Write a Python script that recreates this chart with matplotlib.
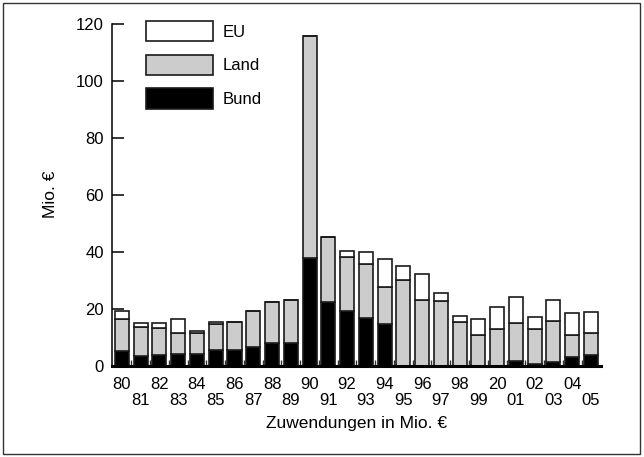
import numpy as np
import matplotlib.pyplot as plt
from matplotlib.patches import Rectangle

plt.rcParams['font.family'] = ['Liberation Sans', 'DejaVu Sans']

# Jahre (2000 steht im Original als "20")
years = ['80', '81', '82', '83', '84', '85', '86', '87', '88', '89',
         '90', '91', '92', '93', '94', '95', '96', '97', '98', '99',
         '20', '01', '02', '03', '04', '05']

# Zuwendungen in Mio. Euro
bund = [5.1, 3.5, 3.6, 3.9, 4.2, 5.6, 5.6, 6.6, 8.1, 8.1,
        37.6, 22.3, 19.2, 16.7, 14.5, 0, 0, 0, 0, 0,
        0, 1.7, 0.5, 1.2, 3.1, 3.6]
land = [11.1, 9.9, 9.5, 7.4, 7.2, 8.9, 9.8, 12.4, 14.1, 15.0,
        78.1, 23.0, 18.9, 19.0, 13.0, 30.2, 22.9, 22.5, 15.4, 10.8,
        12.8, 13.4, 12.5, 14.5, 7.7, 7.9]
eu = [2.8, 1.5, 1.8, 5.1, 0.9, 0.9, 0, 0, 0, 0,
      0, 0, 2.2, 4.3, 9.8, 4.7, 9.3, 2.9, 2.0, 5.5,
      7.6, 8.9, 4.1, 7.3, 7.5, 7.2]

x = np.arange(len(years))
bund = np.array(bund)
land = np.array(land)
eu = np.array(eu)

fig = plt.figure(figsize=(6.44, 4.57), dpi=100)
ax = fig.add_axes([112 / 644, 1 - 365.6 / 457, (600.7 - 112) / 644, (365.6 - 23.7) / 457])

edge = '#1a1a1a'
w = 0.75
b1 = ax.bar(x, bund, w, color='black', edgecolor=edge, linewidth=1.2, label='Bund')
b2 = ax.bar(x, land, w, bottom=bund, color='#cccccc', edgecolor=edge, linewidth=1.2, label='Land')
b3 = ax.bar(x, eu, w, bottom=bund + land, color='white', edgecolor=edge, linewidth=1.2, label='EU')

ax.set_xlim(-0.53, 25.52)
ax.set_ylim(0, 120)
ax.set_yticks(range(0, 121, 20))

ax.spines['top'].set_visible(False)
ax.spines['right'].set_visible(False)
ax.spines['left'].set_linewidth(1.1)
ax.spines['bottom'].set_linewidth(2.2)

ax.tick_params(axis='y', direction='in', length=8.5, width=1.1, labelsize=12, pad=6)
ax.set_xticks(x)
labels = [y if i % 2 == 0 else '\n' + y for i, y in enumerate(years)]
ax.set_xticklabels(labels)
ax.tick_params(axis='x', which='major', length=0, labelsize=12, pad=8)
for t in ax.get_xticklabels():
    t.set_linespacing(1.1)
ax.set_xticks(x[:-1] + 0.5, minor=True)
ax.tick_params(axis='x', which='minor', direction='in', length=4, width=1.0, color='#333333')

ax.set_xlabel('Zuwendungen in Mio. €', fontsize=12.5, labelpad=6)
ax.set_ylabel('Mio. €', fontsize=12.5, labelpad=13)

ax.legend(handles=[b3, b2, b1], loc='upper left',
          bbox_to_anchor=(146 / 644, 1 - 21 / 457), bbox_transform=fig.transFigure,
          frameon=False, fontsize=12, borderpad=0, borderaxespad=0,
          handlelength=4.0, handleheight=1.5, handletextpad=0.6, labelspacing=0.8)

fig.patches.append(Rectangle((3 / 644, 3 / 457), 637 / 644, 451 / 457, transform=fig.transFigure,
                             fill=False, edgecolor='#333333', linewidth=1.0))

fig.savefig('out.png', dpi=100)
